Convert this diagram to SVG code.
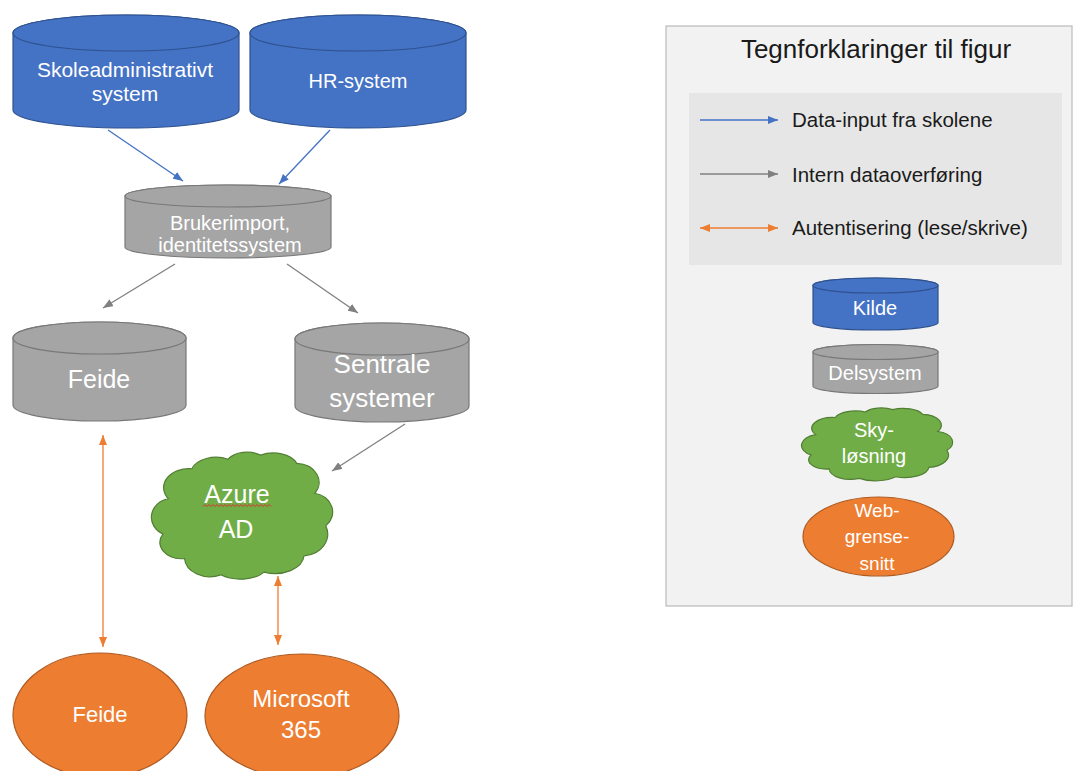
<svg xmlns="http://www.w3.org/2000/svg" xmlns:xlink="http://www.w3.org/1999/xlink" width="1073" height="771" viewBox="0 0 1073 771">
<defs>
<style>
.kilde{fill:#4472c4;stroke:#2f528f;stroke-width:1.2}
.del{fill:#a5a5a5;stroke:#787878;stroke-width:1.2}
.sky{fill:#70ad47;stroke:#507e32;stroke-width:1.2}
.web{fill:#ed7d31;stroke:#ae5a21;stroke-width:1.2}
.t{font-family:"Liberation Sans",Arial,sans-serif;fill:#ffffff;text-anchor:middle}
.lt{font-family:"Liberation Sans",Arial,sans-serif;fill:#1a1a1a}
.blue{stroke:#4472c4;stroke-width:1.3;fill:none;marker-end:url(#mb)}
.gray{stroke:#808080;stroke-width:1.3;fill:none;marker-end:url(#mg)}
.orange{stroke:#ed7d31;stroke-width:1.3;fill:none;marker-end:url(#mo);marker-start:url(#mo)}
</style>
<marker id="mb" markerWidth="10" markerHeight="8" refX="10" refY="4" orient="auto-start-reverse" markerUnits="userSpaceOnUse"><path d="M0,0 L10,4 L0,8 z" fill="#4472c4"/></marker>
<marker id="mg" markerWidth="10" markerHeight="8" refX="10" refY="4" orient="auto-start-reverse" markerUnits="userSpaceOnUse"><path d="M0,0 L10,4 L0,8 z" fill="#808080"/></marker>
<marker id="mo" markerWidth="10" markerHeight="8" refX="10" refY="4" orient="auto-start-reverse" markerUnits="userSpaceOnUse"><path d="M0,0 L10,4 L0,8 z" fill="#ed7d31"/></marker>
<path id="cloud" d="M 9,38 A 14,14 0 0 1 22,16 A 14,12 0 0 1 42,9 A 12,10 0 0 1 60,6 A 14,12 0 0 1 80,12 A 13,14 0 0 1 90,34 A 12,14 0 0 1 96,58 A 14,16 0 0 1 84,80 A 16,14 0 0 1 62,92 A 16,12 0 0 1 38,94 A 14,14 0 0 1 18,82 A 12,12 0 0 1 6,64 A 12,14 0 0 1 9,38 Z" vector-effect="non-scaling-stroke"/>
</defs>

<!-- Legend box -->
<g id="legend">
<rect x="666" y="26" width="406" height="580" fill="#f2f2f2" stroke="#bfbfbf" stroke-width="1.3"/>
<text class="lt" x="876" y="58" font-size="26" text-anchor="middle">Tegnforklaringer til figur</text>
<rect x="689" y="93" width="373" height="172" fill="#e6e6e6"/>
<line class="blue" x1="700" y1="120" x2="778" y2="120"/>
<text class="lt" x="792" y="127" font-size="20.5">Data-input fra skolene</text>
<line class="gray" x1="700" y1="174" x2="778" y2="174"/>
<text class="lt" x="792" y="182" font-size="20.5">Intern dataoverføring</text>
<line class="orange" x1="700" y1="228" x2="778" y2="228"/>
<text class="lt" x="792" y="235" font-size="20.5">Autentisering (lese/skrive)</text>
</g>

<g id="legend-kilde">
<path class="kilde" d="M813,285.5 V322.5 A62.5,7.5 0 0 0 938,322.5 V285.5 A62.5,7.5 0 0 0 813,285.5 Z"/>
<ellipse class="kilde" cx="875.5" cy="285.5" rx="62.5" ry="7.5"/>
<text class="t" x="875" y="315" font-size="20">Kilde</text>
</g>
<g id="legend-delsystem">
<path class="del" d="M813,352 V386 A62.5,7.5 0 0 0 938,386 V352 A62.5,7.5 0 0 0 813,352 Z"/>
<ellipse class="del" cx="875.5" cy="352" rx="62.5" ry="7.5"/>
<text class="t" x="875" y="380" font-size="20">Delsystem</text>
</g>
<g id="legend-sky">
<use xlink:href="#cloud" class="sky" transform="translate(802,405) scale(1.51,0.78)"/>
<text class="t" x="874" y="437" font-size="20">Sky-</text>
<text class="t" x="874" y="463" font-size="20">løsning</text>
</g>
<g id="legend-web">
<ellipse class="web" cx="878.5" cy="536.5" rx="75.5" ry="39.5"/>
<text class="t" x="877" y="517" font-size="19">Web-</text>
<text class="t" x="877" y="543" font-size="19">grense-</text>
<text class="t" x="877" y="570" font-size="19">snitt</text>
</g>

<!-- Connectors -->
<g id="connectors">
<line class="blue" x1="108" y1="130" x2="183" y2="181"/>
<line class="blue" x1="330" y1="130" x2="279" y2="184"/>
<line class="gray" x1="175" y1="264" x2="103" y2="308"/>
<line class="gray" x1="287" y1="264" x2="358" y2="313"/>
<line class="gray" x1="405" y1="424" x2="332" y2="471"/>
<line class="orange" x1="103" y1="435" x2="103" y2="647"/>
<line class="orange" x1="278" y1="576" x2="278" y2="645"/>
</g>

<!-- Nodes -->
<g id="skoleadm">
<path class="kilde" d="M13,33 V110 A113,18 0 0 0 239,110 V33 A113,18 0 0 0 13,33 Z"/>
<ellipse class="kilde" cx="126" cy="33" rx="113" ry="18"/>
<text class="t" x="125" y="77" font-size="21">Skoleadministrativt</text>
<text class="t" x="125" y="101" font-size="21">system</text>
</g>
<g id="hr">
<path class="kilde" d="M250,33 V110 A108,18 0 0 0 466,110 V33 A108,18 0 0 0 250,33 Z"/>
<ellipse class="kilde" cx="358" cy="33" rx="108" ry="18"/>
<text class="t" x="358" y="88" font-size="20">HR-system</text>
</g>
<g id="brukerimport">
<path class="del" d="M125,196 V247 A103,11 0 0 0 331,247 V196 A103,11 0 0 0 125,196 Z"/>
<ellipse class="del" cx="228" cy="196" rx="103" ry="11"/>
<text class="t" x="230" y="230" font-size="20">Brukerimport,</text>
<text class="t" x="230" y="252" font-size="20">identitetssystem</text>
</g>
<g id="feide-db">
<path class="del" d="M13,338 V405 A86.5,16 0 0 0 186,405 V338 A86.5,16 0 0 0 13,338 Z"/>
<ellipse class="del" cx="99.5" cy="338" rx="86.5" ry="16"/>
<text class="t" x="99" y="388" font-size="25">Feide</text>
</g>
<g id="sentrale">
<path class="del" d="M295,339 V406 A87,16 0 0 0 469,406 V339 A87,16 0 0 0 295,339 Z"/>
<ellipse class="del" cx="382" cy="339" rx="87" ry="16"/>
<text class="t" x="382" y="373" font-size="26">Sentrale</text>
<text class="t" x="382" y="407" font-size="26">systemer</text>
</g>
<g id="azure">
<use xlink:href="#cloud" class="sky" transform="translate(152,447) scale(1.81,1.36)"/>
<text class="t" x="237" y="503" font-size="25">Azure</text>
<path d="M203,506.5 l2,-2 l2,2 l2,-2 l2,2 l2,-2 l2,2 l2,-2 l2,2 l2,-2 l2,2 l2,-2 l2,2 l2,-2 l2,2 l2,-2 l2,2 l2,-2 l2,2 l2,-2 l2,2 l2,-2 l2,2 l2,-2 l2,2 l2,-2 l2,2 l2,-2 l2,2 l2,-2 l2,2 l2,-2 l2,2 l2,-2 l2,2" fill="none" stroke="#e03030" stroke-width="1"/>
<text class="t" x="236" y="538" font-size="25">AD</text>
</g>
<g id="feide-web">
<ellipse class="web" cx="100" cy="715" rx="87" ry="62"/>
<text class="t" x="100" y="722" font-size="22">Feide</text>
</g>
<g id="m365">
<ellipse class="web" cx="302" cy="716" rx="97" ry="62"/>
<text class="t" x="301" y="707" font-size="24">Microsoft</text>
<text class="t" x="301" y="738" font-size="24">365</text>
</g>
</svg>
